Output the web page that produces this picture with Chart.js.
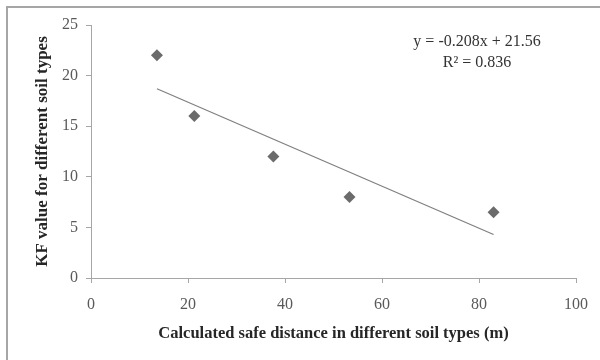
<!DOCTYPE html>
<html>
<head>
<meta charset="utf-8">
<script src="https://cdn.jsdelivr.net/npm/chart.js@4"></script>
<style>
  html, body { margin: 0; padding: 0; background: #fff; }
  #wrap { position: relative; width: 600px; height: 360px; overflow: hidden; }
  #frame { position: absolute; left: 6px; top: 6px; width: 700px; height: 500px;
           border-top: 2px solid #a6a6a6; border-left: 2px solid #a6a6a6; }
  canvas { position: absolute; left: 0; top: 0; }
</style>
</head>
<body>
<div id="wrap">
  <div id="frame"></div>
  <canvas id="chart" width="600" height="360"></canvas>
</div>
<script>
// measured points
const safeDistance = [13.6, 21.3, 37.6, 53.3, 83.0];
const kfValue = [22.0, 16.0, 12.0, 8.0, 6.5];

// linear trendline end points (as drawn)
const trendX = [13.6, 83.0];
const trendY = [18.7, 4.3];

const equationLines = ['y = -0.208x + 21.56', 'R\u00b2 = 0.836'];

const xTitle = 'Calculated safe distance in different soil types (m)';
const yTitle = 'KF value for different soil types';

const serif = '"Liberation Serif", "Times New Roman", serif';

function toPoints(xs, ys){
    let pts = new Array();
    for(let i=0; i<xs.length; i++){
        pts.push({x: xs[i], y: ys[i]});
    }
    return pts;
}

const equationPlugin = {
    id: 'equation',
    afterDatasetsDraw(chart){
        const ctx = chart.ctx;
        const xs = chart.scales.x;
        const ys = chart.scales.y;
        const cx = xs.getPixelForValue(79.6);
        ctx.save();
        ctx.fillStyle = '#333';
        ctx.font = '16px ' + serif;
        ctx.textAlign = 'center';
        ctx.textBaseline = 'middle';
        ctx.fillText(equationLines[0], cx, ys.getPixelForValue(23.3));
        ctx.fillText(equationLines[1], cx, ys.getPixelForValue(21.3));
        ctx.restore();
    }
};

new Chart(document.getElementById('chart'), {
    type: 'scatter',
    data: {
        datasets: [
            {
                label: 'KF',
                data: toPoints(safeDistance, kfValue),
                pointStyle: 'rectRot',
                pointRadius: 6,
                backgroundColor: '#6b6b6b',
                borderColor: '#6b6b6b',
                borderWidth: 0
            },
            {
                label: 'Trend',
                data: toPoints(trendX, trendY),
                showLine: true,
                pointRadius: 0,
                borderColor: '#808080',
                borderWidth: 1.3,
                tension: 0
            }
        ]
    },
    options: {
        responsive: false,
        animation: false,
        layout: { padding: { left: 0, top: 25, right: 24, bottom: 0 } },
        plugins: {
            legend: { display: false },
            tooltip: { enabled: false }
        },
        scales: {
            x: {
                type: 'linear',
                min: 0,
                max: 100,
                ticks: { stepSize: 20, color: '#595959', padding: 12,
                         font: { family: serif, size: 16 } },
                grid: { display: true, drawOnChartArea: false, tickLength: 5, color: '#a6a6a6' },
                border: { color: '#a6a6a6', width: 1 },
                title: { display: true, text: xTitle, color: '#262626',
                         font: { family: serif, size: 16.5, weight: 'bold' },
                         padding: { top: 0, bottom: 16 } },
                afterFit(scale){ scale.height = 82; }
            },
            y: {
                min: 0,
                max: 25,
                ticks: { stepSize: 5, color: '#595959', padding: 8,
                         font: { family: serif, size: 16 } },
                grid: { display: true, drawOnChartArea: false, tickLength: 5, color: '#a6a6a6' },
                border: { color: '#a6a6a6', width: 1 },
                title: { display: true, text: yTitle, color: '#262626',
                         font: { family: serif, size: 17, weight: 'bold' },
                         padding: { top: 32, bottom: 0 } },
                afterFit(scale){ scale.width = 91; }
            }
        }
    },
    plugins: [equationPlugin]
});
</script>
</body>
</html>
